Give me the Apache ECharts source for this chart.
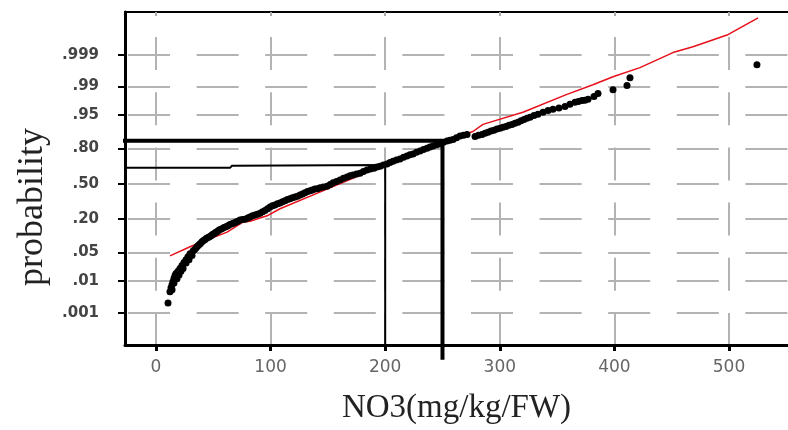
<!DOCTYPE html>
<html>
<head>
<meta charset="utf-8">
<script src="https://cdn.jsdelivr.net/npm/echarts@6/dist/echarts.min.js"></script>
<style>
  html, body { margin: 0; padding: 0; background: #fff; }
  #chart { width: 788px; height: 430px; }
</style>
</head>
<body>
<div id="chart"></div>
<script>
// x ticks (mg/kg/FW)
var xTicks = [0, 100, 200, 300, 400, 500];
// probability labels and their normal scores (y axis is the normal score)
var probLabels = ['.001', '.01', '.05', '.20', '.50', '.80', '.95', '.99', '.999'];
var probScores = [-3.09, -2.326, -1.645, -0.842, 0, 0.842, 1.645, 2.326, 3.09];

// observed samples: [NO3, normal score]
var samplePoints = [
  [10.5, -2.86], [12.2, -2.59], [13.1, -2.49], [14.0, -2.42], [14.0, -2.54],
  [14.8, -2.35], [15.7, -2.27], [15.7, -2.38], [16.6, -2.20], [17.5, -2.15],
  [18.3, -2.28], [19.2, -2.10], [20.1, -2.19], [20.9, -2.03], [21.8, -2.10],
  [22.7, -1.96], [23.6, -2.03], [24.4, -1.89], [26.2, -1.82], [26.2, -1.90],
  [27.9, -1.75], [28.8, -1.82], [29.7, -1.68], [31.4, -1.72], [32.3, -1.61],
  [33.6, -1.58], [34.9, -1.54], [36.2, -1.50], [37.5, -1.46], [38.8, -1.43],
  [40.1, -1.39], [41.5, -1.36], [42.8, -1.34], [44.1, -1.31], [45.4, -1.29],
  [46.7, -1.27], [48.0, -1.25], [49.3, -1.22], [50.6, -1.20], [51.9, -1.17],
  [53.2, -1.15], [54.5, -1.12], [55.8, -1.10], [57.5, -1.08], [59.3, -1.05],
  [61.0, -1.03], [62.8, -1.01], [64.5, -0.98], [66.3, -0.96], [68.0, -0.94],
  [69.8, -0.92], [71.5, -0.90], [73.3, -0.87], [75.5, -0.86], [77.7, -0.85],
  [80.0, -0.82], [82.0, -0.80], [84.2, -0.77], [86.4, -0.75], [88.6, -0.73],
  [90.8, -0.71], [93.0, -0.67], [95.1, -0.64], [97.3, -0.60], [99.5, -0.56],
  [101.7, -0.53], [103.8, -0.51], [106.0, -0.48], [108.2, -0.46], [110.4, -0.43],
  [112.6, -0.41], [114.7, -0.38], [116.9, -0.36], [119.1, -0.34], [121.3, -0.32],
  [123.5, -0.30], [125.7, -0.27], [127.8, -0.25], [130.0, -0.22], [132.2, -0.19],
  [134.4, -0.17], [136.5, -0.15], [138.7, -0.13], [140.9, -0.12], [143.1, -0.10],
  [146.0, -0.08], [149.2, -0.06], [152.0, -0.02], [154.5, 0.02], [157.5, 0.05],
  [160.6, 0.09], [163.6, 0.13], [166.7, 0.16], [169.3, 0.19], [171.9, 0.21],
  [175.0, 0.23], [178.0, 0.25], [181.0, 0.29], [184.1, 0.33], [187.1, 0.35],
  [190.2, 0.37], [192.8, 0.40], [195.5, 0.42], [198.5, 0.45], [201.6, 0.47],
  [204.2, 0.51], [206.8, 0.54], [209.8, 0.57], [212.9, 0.59], [216.0, 0.63],
  [219.0, 0.66], [221.6, 0.69], [224.3, 0.71], [227.3, 0.75], [230.4, 0.78],
  [233.4, 0.82], [236.5, 0.85], [239.1, 0.88], [241.7, 0.90], [244.7, 0.93],
  [247.8, 0.95], [250.8, 0.99], [253.9, 1.02], [256.5, 1.04], [259.2, 1.06],
  [262.2, 1.10], [265.3, 1.14], [268.3, 1.16], [271.4, 1.18], [278.4, 1.13],
  [281.4, 1.16], [284.5, 1.18], [287.1, 1.21], [289.7, 1.23], [292.3, 1.26],
  [294.9, 1.28], [297.5, 1.31], [300.2, 1.33], [302.8, 1.35], [305.4, 1.37],
  [308.0, 1.40], [310.6, 1.42], [313.2, 1.45], [315.9, 1.47], [318.5, 1.51],
  [321.1, 1.54], [323.7, 1.57], [326.4, 1.59], [329.8, 1.63], [333.3, 1.66],
  [337.7, 1.71], [342.1, 1.75], [346.4, 1.78], [351.6, 1.81], [356.9, 1.85],
  [361.2, 1.90], [365.6, 1.95], [368.6, 1.97], [371.7, 1.99], [374.3, 2.00],
  [377.0, 2.02], [382.2, 2.09], [385.7, 2.16], [398.8, 2.25], [411.0, 2.35],
  [413.6, 2.54], [524.4, 2.85]
];

// fitted normal line
var fitLine = [
  [12.2, -1.73], [29.7, -1.51], [47.1, -1.32], [62.0, -1.16], [75.9, -0.92],
  [82.0, -0.90], [96.9, -0.77], [108.2, -0.60], [149.2, -0.13], [201.6, 0.47],
  [253.9, 1.04], [276.6, 1.25], [285.3, 1.42], [320.2, 1.71], [358.6, 2.14],
  [381.3, 2.37], [398.8, 2.56], [422.3, 2.78], [451.1, 3.14], [468.6, 3.28],
  [498.3, 3.56], [525.4, 3.97]
];

// reading guides
var guide250 = [[-46.2, 1.03], [250, 1.03], [250, -4.22]];
var guide200 = [[-40.1, 0.38], [64.6, 0.38], [66.3, 0.43], [200, 0.45], [200, -3.86]];

var chart = echarts.init(document.getElementById('chart'));

var xMin = -27.05, xMax = 551.5;
var yMin = -3.864, yMax = 4.112;

var option = {
  animation: false,
  backgroundColor: '#fff',
  grid: { left: 125, top: 12, right: 0, bottom: 83 },
  xAxis: [{
    type: 'value',
    min: xMin,
    max: xMax,
    name: 'NO3(mg/kg/FW)',
    nameLocation: 'middle',
    nameGap: 47,
    nameTextStyle: { fontFamily: 'Liberation Serif', fontSize: 33, color: '#222' },
    axisLine: { show: true, onZero: false, lineStyle: { color: '#000', width: 3 } },
    axisTick: { show: true, customValues: xTicks, length: 6, lineStyle: { color: '#000', width: 3 } },
    axisLabel: {
      customValues: xTicks,
      margin: 14,
      fontFamily: 'DejaVu Sans',
      fontSize: 17,
      color: '#666'
    },
    splitLine: {
      show: true,
      lineStyle: { color: '#b3b3b3', width: 2, type: [33, 22.2], dashOffset: 30.2 }
    }
  }, {
    type: 'value',
    position: 'top',
    min: xMin,
    max: xMax,
    axisLine: { show: true, onZero: false, lineStyle: { color: '#000', width: 2 } },
    axisTick: { show: true, inside: true, customValues: xTicks, length: 4, lineStyle: { color: '#aaa', width: 2 } },
    axisLabel: { show: false },
    splitLine: { show: false }
  }],
  yAxis: {
    type: 'value',
    min: yMin,
    max: yMax,
    name: 'probability',
    nameLocation: 'middle',
    nameRotate: 90,
    nameGap: 74,
    nameTextStyle: { fontFamily: 'Liberation Serif', fontSize: 36, color: '#222', padding: [0, 57, 0, 0] },
    axisLine: { show: true, onZero: false, lineStyle: { color: '#000', width: 3 } },
    axisTick: { show: true, customValues: probScores, length: 7, lineStyle: { color: '#000', width: 2 } },
    axisLabel: {
      customValues: probScores,
      margin: 26,
      fontFamily: 'DejaVu Sans',
      fontSize: 15,
      fontWeight: 'bold',
      color: '#444',
      formatter: function (v) {
        var best = 0;
        for (var i = 1; i < probScores.length; i++) {
          if (Math.abs(probScores[i] - v) < Math.abs(probScores[best] - v)) best = i;
        }
        return probLabels[best];
      }
    },
    splitLine: {
      show: true,
      lineStyle: { color: '#b3b3b3', width: 2, type: [42, 26.6], dashOffset: 65.6 }
    }
  },
  series: [{
    type: 'line',
    data: fitLine,
    showSymbol: false,
    lineStyle: { color: '#e8101a', width: 1.5 },
    z: 3
  }, {
    type: 'scatter',
    data: samplePoints,
    symbol: 'circle',
    symbolSize: 7,
    itemStyle: { color: '#000', opacity: 1 },
    z: 4
  }, {
    type: 'line',
    data: guide250,
    showSymbol: false,
    clip: false,
    lineStyle: { color: '#000', width: 4 },
    z: 5
  }, {
    type: 'line',
    data: guide200,
    showSymbol: false,
    clip: false,
    lineStyle: { color: '#000', width: 2 },
    z: 5
  }]
};

chart.setOption(option);
</script>
</body>
</html>
